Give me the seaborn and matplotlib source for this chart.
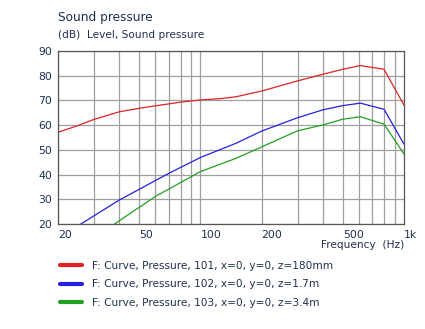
import numpy as np
import pandas as pd
import seaborn as sns
import matplotlib
matplotlib.use("Agg")
import matplotlib.pyplot as plt
from matplotlib.lines import Line2D

# ---- data ----
freq_red = [20, 25, 30, 40, 50, 60, 70, 80, 100, 125, 150, 200, 300, 400, 500, 611, 798, 1000]
spl_red = [57.1, 59.8, 62.3, 65.4, 66.8, 67.8, 68.6, 69.3, 70.2, 70.7, 71.5, 73.8, 77.9, 80.6, 82.6, 84.1, 82.6, 68.1]

freq_blue = [20, 25.9, 40, 70, 100, 150, 200, 300, 400, 500, 611, 798, 1000]
spl_blue = [14.2, 20.0, 29.7, 40.5, 46.9, 52.7, 57.6, 63.0, 66.2, 67.9, 68.9, 66.4, 52.3]

freq_green = [35, 37.9, 60, 100, 150, 200, 300, 400, 500, 611, 798, 1000]
spl_green = [18.0, 20.0, 31.1, 41.2, 46.6, 51.2, 57.7, 60.1, 62.4, 63.4, 60.4, 48.3]

series_names = ["F: Curve, Pressure, 101, x=0, y=0, z=180mm",
                "F: Curve, Pressure, 102, x=0, y=0, z=1.7m",
                "F: Curve, Pressure, 103, x=0, y=0, z=3.4m"]
series_colors = ["#e02222", "#2222e0", "#22a022"]

x_ticks = [20, 50, 100, 200, 500, 1000]
x_ticklabels = ["20", "50", "100", "200", "500", "1k"]
y_ticks = [20, 30, 40, 50, 60, 70, 80, 90]

df = pd.concat([
    pd.DataFrame({"freq": freq_red, "spl": spl_red, "series": series_names[0]}),
    pd.DataFrame({"freq": freq_blue, "spl": spl_blue, "series": series_names[1]}),
    pd.DataFrame({"freq": freq_green, "spl": spl_green, "series": series_names[2]}),
])

sns.set_style("white")
plt.rcParams['font.family'] = ['DejaVu Sans']
txt = "#1e2f50"

fig = plt.figure(figsize=(4.25, 3.29), dpi=100)
ax = fig.add_axes([58/425, 1-224/329, 346/425, 173/329])

sns.lineplot(data=df, x="freq", y="spl", hue="series", palette=dict(zip(series_names, series_colors)),
             ax=ax, linewidth=0.9, legend=False, sort=False, estimator=None)

ax.set_xscale("log")
ax.set_xlim(20, 1000)
ax.set_ylim(20, 90)

grid_x = [20, 30, 40, 50, 60, 70, 80, 90, 100, 200, 300, 400, 500, 600, 700, 800, 900]
for gx in grid_x:
    ax.axvline(gx, color="#9e9e9e", lw=0.9, zorder=0)
for gy in y_ticks:
    ax.axhline(gy, color="#9e9e9e", lw=0.9, zorder=0)

ax.set_xticks(x_ticks)
ax.set_xticklabels(x_ticklabels)
ax.xaxis.set_minor_locator(matplotlib.ticker.NullLocator())
ax.set_yticks(y_ticks)
ax.tick_params(axis="both", length=0, colors=txt, labelsize=7.8, pad=4)
for lab in ax.get_xticklabels():
    lab.set_horizontalalignment("left")
ax.set_xlabel("")
ax.set_ylabel("")
for s in ax.spines.values():
    s.set_color("#555555")
    s.set_linewidth(0.9)

fig.text(58/425, 1-18/329, "Sound pressure", fontsize=8.7, color=txt, va="center", ha="left")
fig.text(58/425, 1-35/329, "(dB)  Level, Sound pressure", fontsize=7.6, color=txt, va="center", ha="left")
fig.text(404/425, 1-245/329, "Frequency  (Hz)", fontsize=7.6, color=txt, va="center", ha="right")

handles = [Line2D([0], [0], color=c, lw=3) for c in series_colors]
fig.legend(handles, series_names, loc="upper left", bbox_to_anchor=(57/425, 1-258/329),
           frameon=False, fontsize=7.6, labelcolor=txt, handlelength=2.1, handletextpad=0.95,
           labelspacing=0.78, borderaxespad=0, borderpad=0.3)

fig.savefig("out.png", dpi=100)
